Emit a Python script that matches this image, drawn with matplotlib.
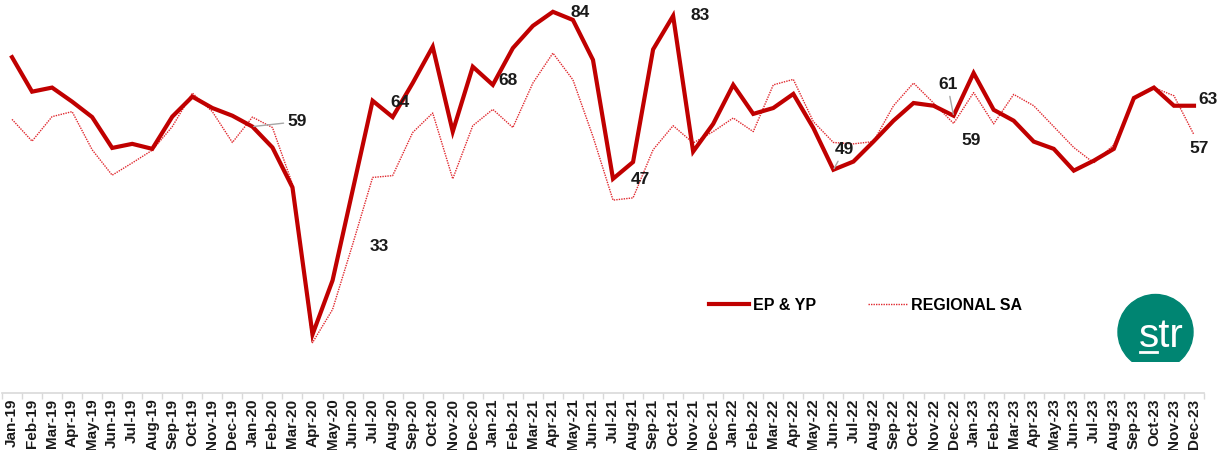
import numpy as np
import matplotlib
matplotlib.use('Agg')
import matplotlib.pyplot as plt
from matplotlib.patches import Ellipse, Rectangle
from matplotlib.lines import Line2D

plt.rcParams['font.family'] = ['Liberation Sans', 'DejaVu Sans']

# months Jan-19 .. Dec-23
months = ['Jan', 'Feb', 'Mar', 'Apr', 'May', 'Jun', 'Jul', 'Aug', 'Sep', 'Oct', 'Nov', 'Dec']
years = ['19', '20', '21', '22', '23']
labels = [m + '-' + y for y in years for m in months]

ep_yp = [74.0, 66.4, 67.3, 64.2, 60.8, 54.0, 54.9, 53.8, 60.9, 65.3, 62.8, 61.1,
         58.7, 54.1, 45.3, 12.9, 24.8, 44.6, 64.4, 60.8, 68.3, 76.3, 57.6, 71.9,
         67.9, 76.0, 80.9, 84.0, 82.2, 73.4, 47.2, 50.9, 75.7, 83.1, 53.2, 59.3,
         67.9, 61.5, 62.8, 65.9, 58.4, 49.2, 51.0, 55.4, 60.0, 63.9, 63.3, 61.1,
         70.5, 62.4, 60.0, 55.4, 53.8, 49.0, 51.2, 53.8, 65.0, 67.3, 63.3, 63.3]

regional = [60.3, 55.5, 60.9, 62.0, 53.6, 48.0, 50.7, 53.5, 58.7, 66.1, 62.0, 55.2,
            60.8, 58.5, 46.0, 11.1, 18.4, 32.7, 47.5, 47.9, 57.4, 61.7, 47.2, 58.9,
            62.5, 58.5, 68.3, 74.9, 69.0, 56.5, 42.5, 43.0, 53.6, 58.9, 55.1, 57.6,
            60.6, 57.6, 67.9, 69.1, 59.8, 55.2, 54.9, 55.4, 63.3, 68.3, 63.9, 59.4,
            66.2, 59.3, 65.8, 63.3, 58.7, 54.1, 50.7, 54.7, 64.6, 67.3, 65.5, 56.9]

# labelled points: (month index, offset in pixels, leader line)
ep_labels = [(12, (45, 5), True), (18, (27, -2), False), (24, (15, 4), False),
             (27, (27, -1), False), (30, (27, -1), False), (33, (27, 0), False),
             (41, (11, 20), True), (47, (-6, 31), True), (59, (14, 6), False)]
reg_labels = [(17, (27, -2), False), (47, (18, -17), False), (59, (5, -14), False)]

x = np.arange(len(labels))

fig = plt.figure(figsize=(12.26, 4.5), dpi=100)
ax = fig.add_axes([2 / 1226, 1 - 393 / 450, 1202 / 1226, 393 / 450])

ax.plot(x, ep_yp, color='#C00000', lw=3, solid_joinstyle='miter', label='EP & YP', zorder=3)
ax.plot(x, regional, color='#E0282E', lw=1.0, linestyle=(0, (1, 0.8)), label='REGIONAL SA', zorder=2)

def add_labels(series, items):
    for i, off, leader in items:
        arrow = dict(arrowstyle='-', color='#a6a6a6', lw=1, shrinkA=1, shrinkB=1) if leader else None
        ax.annotate(str(int(round(series[i]))), (x[i], series[i]), xytext=off,
                    textcoords='offset pixels', ha='center', va='center',
                    fontsize=12.5, fontweight='bold', color='#1a1a1a',
                    arrowprops=arrow, zorder=4)

add_labels(ep_yp, ep_labels)
add_labels(regional, reg_labels)

ax.set_xlim(-0.5, len(labels) - 0.5)
ax.set_ylim(0, 86.6)
ax.set_xticks(x)
ax.set_xticklabels(labels, rotation=90, fontsize=11, fontweight='bold', color='#1a1a1a')
ax.set_xticks(np.arange(len(labels) + 1) - 0.5, minor=True)
ax.tick_params(axis='x', which='major', length=0, pad=4)
ax.tick_params(axis='x', which='minor', length=4, color='#d9d9d9', width=1)
ax.set_yticks([])
for s in ['top', 'left', 'right']:
    ax.spines[s].set_visible(False)
ax.spines['bottom'].set_color('#d9d9d9')
ax.spines['bottom'].set_linewidth(1.2)

fig.legend(loc='center left', bbox_to_anchor=(695 / 1226, 1 - 305 / 450), ncol=2,
           frameon=False, prop={'weight': 'bold', 'size': 11.5}, handlelength=2.5,
           handletextpad=0.25, columnspacing=3.2)

# str logo
tr = fig.dpi_scale_trans
logo = Ellipse((11.555, 1.18), 0.75, 0.75, transform=tr, color='#008572')
fig.add_artist(logo)
logo.set_clip_path(Rectangle((11.0, 0.88), 1.2, 1.0, transform=tr))
fig.text(11.61, 1.03, 'str', transform=tr, color='white', fontsize=29,
         ha='center', va='baseline')
fig.add_artist(Line2D([11.40, 11.57], [0.98, 0.98], transform=tr, color='white', lw=2))

plt.savefig('out.png', dpi=100)
